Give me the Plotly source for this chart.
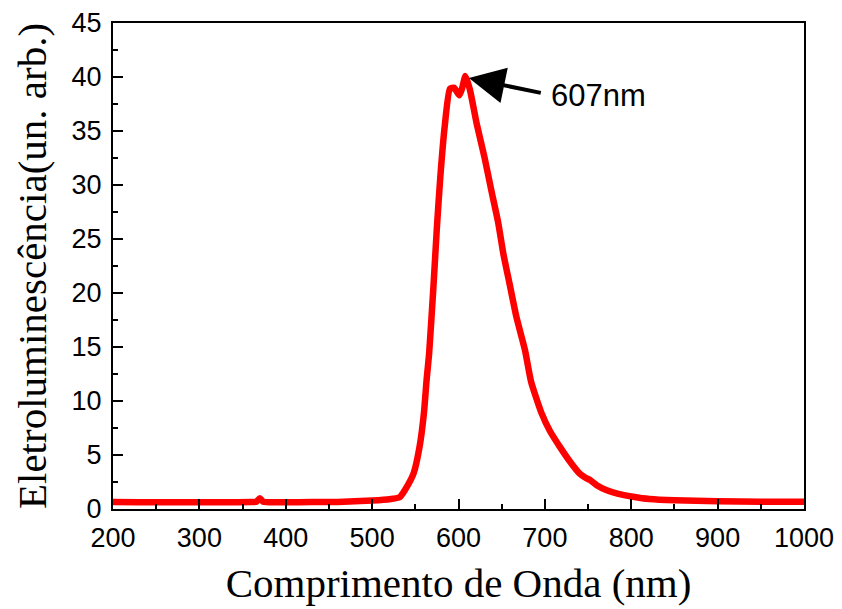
import plotly.graph_objects as go

wavelength = [200, 230, 260, 300, 330, 360, 366, 370, 374, 400, 430, 460, 500, 520, 532, 538, 548, 555,
              560, 563, 566, 571, 575, 579, 584, 590, 595, 601, 604, 608, 613, 621, 630, 638,
              646, 652, 659, 667, 677, 684, 696, 706, 717, 729, 740, 747, 752, 760, 771, 785,
              802, 821, 850, 900, 950, 1000]
intensity = [0.65, 0.62, 0.63, 0.62, 0.63, 0.64, 0.66, 1.0, 0.66, 0.63, 0.64, 0.65, 0.78, 0.9, 1.1, 1.76, 3.3, 5.8,
             8.9, 11.9, 14.4, 20.6, 26.1, 30.8, 35.4, 38.9, 39.0, 38.3, 38.9, 40.1, 38.9, 35.7, 32.6, 29.5,
             26.5, 23.6, 20.9, 17.8, 14.7, 11.8, 8.9, 7.2, 5.8, 4.4, 3.3, 2.9, 2.7, 2.2, 1.76, 1.4,
             1.14, 0.93, 0.8, 0.72, 0.68, 0.66]

x_ticks = [200, 300, 400, 500, 600, 700, 800, 900, 1000]
y_ticks = [0, 5, 10, 15, 20, 25, 30, 35, 40, 45]

peak_label = "607nm"
arrow_tip = (612, 39.9)
arrow_tail = (697, 38.5)
label_pos = (705, 38.3)

fig = go.Figure()
fig.add_trace(go.Scatter(x=wavelength, y=intensity, mode="lines",
                         line=dict(color="#ff0000", width=6.5, shape="spline", smoothing=0.5),
                         showlegend=False))

fig.add_annotation(x=arrow_tip[0], y=arrow_tip[1], ax=arrow_tail[0], ay=arrow_tail[1],
                   xref="x", yref="y", axref="x", ayref="y", text="", showarrow=True,
                   arrowhead=2, arrowsize=1.8, arrowwidth=4, arrowcolor="black")
fig.add_annotation(x=label_pos[0], y=label_pos[1], xref="x", yref="y", text=peak_label,
                   showarrow=False, xanchor="left", yanchor="middle",
                   font=dict(family="Liberation Sans, Arial", size=31, color="black"))

axis_common = dict(showline=True, linecolor="black", linewidth=2, mirror=True,
                   ticks="inside", tickcolor="black", tickwidth=2, ticklen=10,
                   showgrid=False, zeroline=False, automargin=False,
                   tickfont=dict(family="Liberation Sans, Arial", size=27, color="black"))

fig.update_xaxes(range=[200, 1000], tickvals=x_ticks, ticktext=[str(v) for v in x_ticks],
                 minor=dict(ticks="inside", ticklen=5, tickwidth=2, tickcolor="black", dtick=50, tick0=0),
                 ticklabelstandoff=4,
                 title=dict(text="Comprimento de Onda (nm)", standoff=16,
                            font=dict(family="Liberation Serif, Times New Roman", size=41, color="black")),
                 **axis_common)
fig.update_yaxes(range=[0, 45], tickvals=y_ticks, ticktext=[str(v) for v in y_ticks],
                 minor=dict(ticks="inside", ticklen=5, tickwidth=2, tickcolor="black", dtick=2.5, tick0=0),
                 ticklabelstandoff=4,
                 title=dict(text="Eletroluminescência(un. arb.)", standoff=12,
                            font=dict(family="Liberation Serif, Times New Roman", size=41, color="black")),
                 **axis_common)

fig.update_layout(width=834, height=601, plot_bgcolor="white", paper_bgcolor="white",
                  margin=dict(l=105, r=38, t=15, b=100))

fig.write_html("out.html")
